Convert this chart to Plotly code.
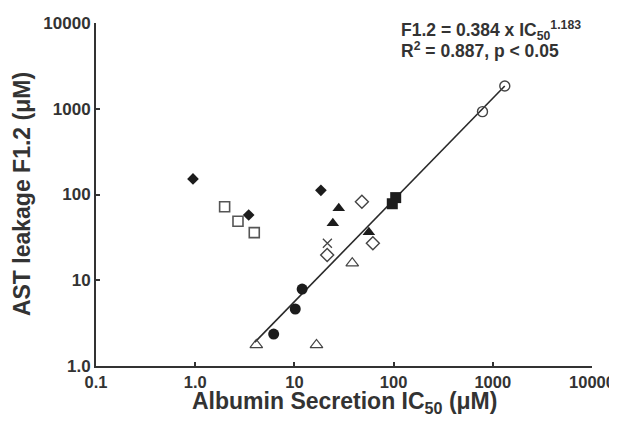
import plotly.graph_objects as go

# ---------------------------------------------------------------------------
# Data
# ---------------------------------------------------------------------------

filled_diamond_x = [0.95, 3.46, 18.5]
filled_diamond_y = [152, 57.7, 112]

open_square_x = [1.98, 2.70, 3.94]
open_square_y = [72, 48.7, 35.9]

filled_triangle_x = [28.0, 24.4, 56.3]
filled_triangle_y = [69, 46.1, 36.2]

open_diamond_x = [47.9, 21.4, 61.8]
open_diamond_y = [82.4, 19.7, 27.0]

cross_x = [21.5]
cross_y = [27.0]

open_triangle_x = [4.13, 16.7, 38.3]
open_triangle_y = [1.76, 1.76, 15.8]

filled_circle_x = [6.18, 10.2, 11.97]
filled_circle_y = [2.36, 4.62, 7.9]

filled_square_x = [105, 97]
filled_square_y = [92, 78]

open_circle_x = [1321, 787]
open_circle_y = [1842, 925]

# regression line F1.2 = 0.384 x IC50^1.183, end points as drawn
fit_x = [4.0, 1320]
fit_y = [1.9, 1840]

x_tickvals = [0.1, 1, 10, 100, 1000, 10000]
x_ticktext = ['0.1', '1.0', '10', '100', '1000', '10000']
y_tickvals = [1, 10, 100, 1000, 10000]
y_ticktext = ['1.0', '10', '100', '1000', '10000']

# ---------------------------------------------------------------------------
# Styling
# ---------------------------------------------------------------------------

FONT = 'Liberation Sans, Arial, sans-serif'
INK = '#1c1c1c'
AXIS = '#333333'


def series(x, y, symbol, size, color=INK, line_color=INK, line_width=0):
    return go.Scatter(
        x=x, y=y, mode='markers', showlegend=False,
        marker=dict(symbol=symbol, size=size, color=color,
                    line=dict(color=line_color, width=line_width)),
    )


fig = go.Figure()

fig.add_trace(go.Scatter(
    x=fit_x, y=fit_y, mode='lines', showlegend=False,
    line=dict(color='#2a2a2a', width=1.6),
))

fig.add_trace(series(filled_diamond_x, filled_diamond_y, 'diamond', 9))
fig.add_trace(series(open_square_x, open_square_y, 'square-open', 10,
                     color='#555555', line_width=1.6))
fig.add_trace(series(filled_triangle_x, filled_triangle_y, 'triangle-up', 11))
fig.add_trace(series(open_diamond_x, open_diamond_y, 'diamond-open', 10,
                     color='#444444', line_width=1.4))
fig.add_trace(series(cross_x, cross_y, 'x-thin-open', 9,
                     color='#444444', line_width=1.3))
fig.add_trace(series(open_triangle_x, open_triangle_y, 'triangle-up-open', 11,
                     color='#444444', line_width=1.2))
fig.add_trace(series(filled_circle_x, filled_circle_y, 'circle', 11))
fig.add_trace(series(filled_square_x, filled_square_y, 'square', 11))
fig.add_trace(series(open_circle_x, open_circle_y, 'circle-open', 10,
                     color='#444444', line_width=1.4))

# automargin off: the template would widen the right margin for "10000"
axis_common = dict(
    type='log', showgrid=False, zeroline=False, automargin=False,
    showline=True, linecolor=AXIS, linewidth=2,
    ticks='inside', ticklen=4, tickwidth=1.5, tickcolor=AXIS,
    tickmode='array',
)

fig.update_xaxes(range=[-1, 4], tickvals=x_tickvals, ticktext=x_ticktext,
                 tickfont=dict(family=FONT, size=16.5, color=AXIS, weight='bold'),
                 **axis_common)
fig.update_yaxes(range=[0, 4], tickvals=y_tickvals, ticktext=y_ticktext,
                 tickfont=dict(family=FONT, size=17, color=AXIS, weight='bold'),
                 **axis_common)

fig.add_annotation(
    text='AST leakage F1.2 (μM)', xref='paper', yref='paper',
    x=-0.150, y=0.5, xanchor='center', yanchor='middle', textangle=-90,
    showarrow=False, font=dict(family=FONT, size=23, color=AXIS, weight='bold'),
)
fig.add_annotation(
    text='Albumin Secretion IC<sub>50</sub> (μM)', xref='paper', yref='paper',
    x=0.5, y=-0.059, xanchor='center', yanchor='top',
    showarrow=False, font=dict(family=FONT, size=23, color=AXIS, weight='bold'),
)
fig.add_annotation(
    text='F1.2 = 0.384 x IC<sub>50</sub><sup>1.183</sup>',
    xref='paper', yref='paper', x=0.611, y=0.978,
    xanchor='left', yanchor='middle', showarrow=False,
    font=dict(family=FONT, size=17.5, color=AXIS, weight='bold'),
)
fig.add_annotation(
    text='R<sup>2</sup> = 0.887, p < 0.05',
    xref='paper', yref='paper', x=0.611, y=0.922,
    xanchor='left', yanchor='middle', showarrow=False,
    font=dict(family=FONT, size=17.5, color=AXIS, weight='bold'),
)

# the page puts the graph 8px in from the top-left corner, so the figure is
# 8px smaller and its margins are 8px narrower on those sides
fig.update_layout(
    width=609, height=415,
    margin=dict(l=88, r=25, t=15, b=57),
    paper_bgcolor='white', plot_bgcolor='white',
    showlegend=False,
)

fig.write_html('out.html')
